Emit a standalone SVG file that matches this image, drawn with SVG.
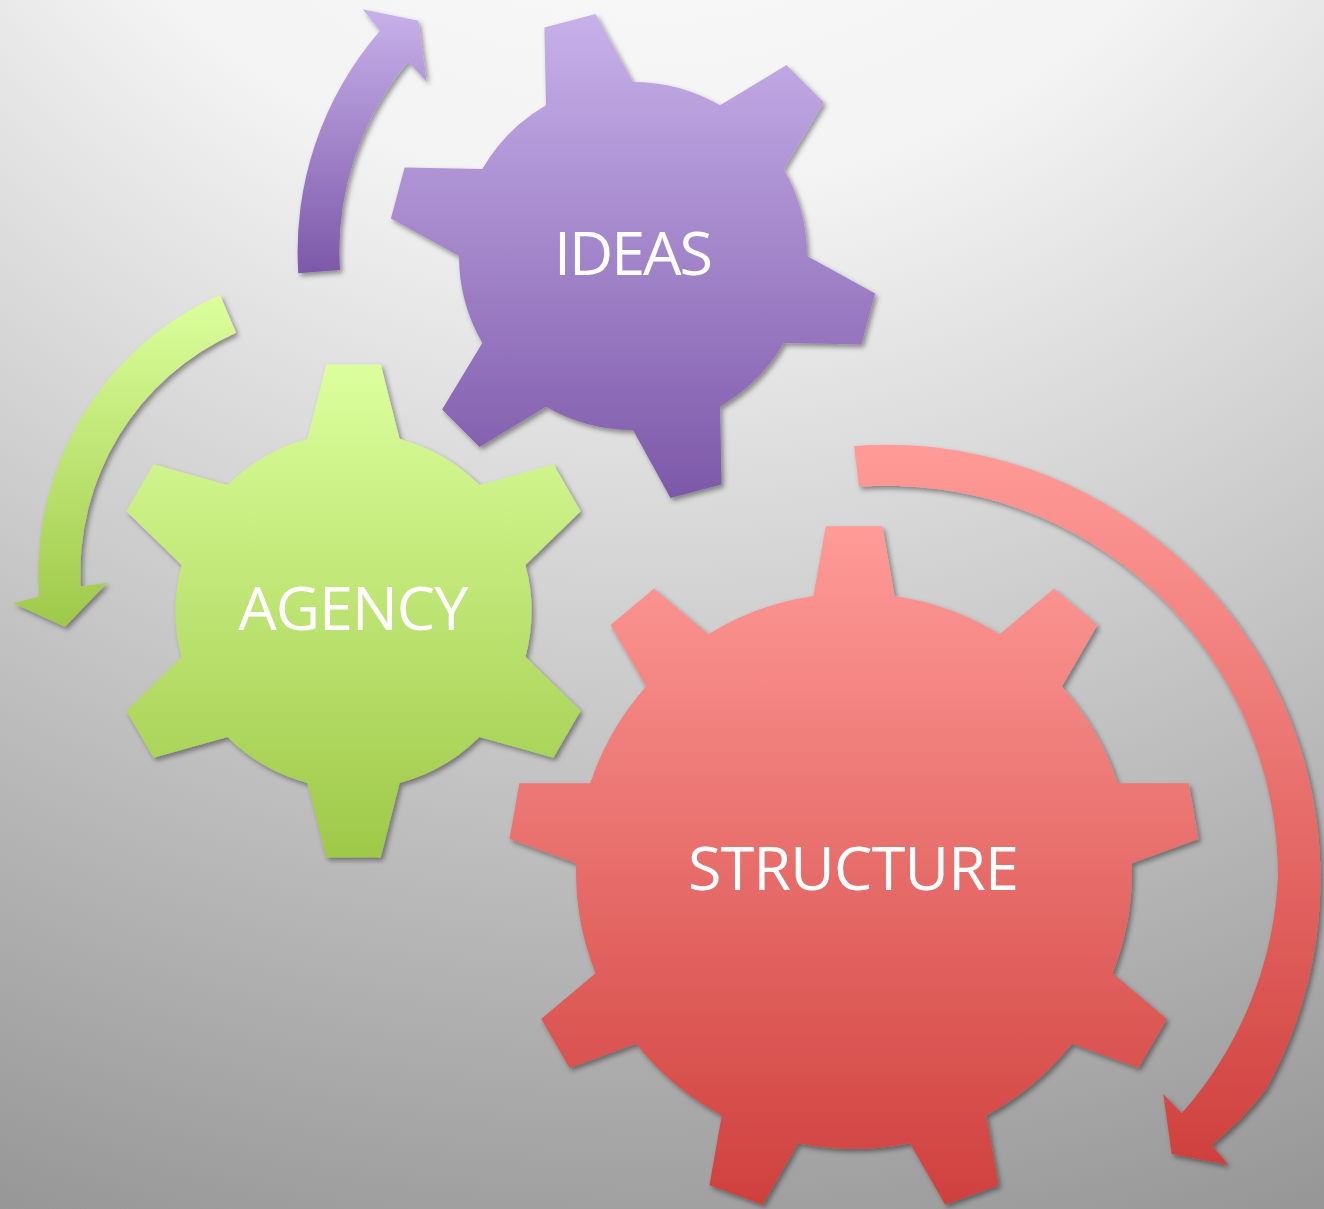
<svg xmlns="http://www.w3.org/2000/svg" width="1324" height="1209" viewBox="0 0 1324 1209">
<style>
.lbl{font-family:"Open Sans","Noto Sans","Liberation Sans",sans-serif;font-size:61px;fill:#ffffff;text-anchor:middle}
.shp{filter:url(#sh)}
</style>
<defs>
<radialGradient id="bg" gradientUnits="userSpaceOnUse" cx="650" cy="-500" r="2000">
<stop offset="0" stop-color="#ffffff"/>
<stop offset="0.35" stop-color="#f3f3f3"/>
<stop offset="0.93" stop-color="#949494"/>
<stop offset="1" stop-color="#8f8f8f"/>
</radialGradient>
<linearGradient id="gP" x1="0" y1="0" x2="0" y2="1">
<stop offset="0" stop-color="#c7b1ea"/>
<stop offset="1" stop-color="#7d58a9"/>
</linearGradient>
<linearGradient id="gG" x1="0" y1="0" x2="0" y2="1">
<stop offset="0" stop-color="#dcff9d"/>
<stop offset="1" stop-color="#9ec948"/>
</linearGradient>
<linearGradient id="gR" x1="0" y1="0" x2="0" y2="1">
<stop offset="0" stop-color="#ff9b98"/>
<stop offset="1" stop-color="#cf403d"/>
</linearGradient>
<filter id="sh" x="-10%" y="-10%" width="125%" height="125%">
<feDropShadow dx="2.5" dy="3" stdDeviation="2.5" flood-color="#000000" flood-opacity="0.4"/>
</filter>
</defs>
<rect x="0" y="0" width="1324" height="1209" fill="url(#bg)"/>
<g id="connectors">
<path id="arrow-ideas" class="shp" fill="url(#gP)" d="M 298.3,273.3 A 337 337 0 0 1 380,30.7 L 362.7,9.3 L 418.3,20.7 L 426.7,81.7 L 408.3,61.7 A 295 295 0 0 0 340,270 Z"/>
<path id="arrow-agency" class="shp" fill="url(#gG)" d="M 220,295 A 304 304 0 0 0 39.3,596.7 L 13.3,603.3 L 65,626.7 L 107.3,582.7 L 80.7,586.7 A 263 263 0 0 1 236,332.7 Z"/>
<path id="arrow-structure" class="shp" fill="url(#gR)" d="M 854,446 A 434 434 0 0 1 1265.6,1090 A 320 320 0 0 1 1211.7,1145 L 1228.3,1165 L 1171.7,1154 L 1163.3,1094.3 L 1181.7,1113.3 A 385 385 0 0 0 1278,877 A 391 391 0 0 0 859,486.7 Z"/>
</g>
<g id="ideas">
<path class="shp" fill="url(#gP)" d="M 546,105.3 L 544.4,27.6 L 595.5,13.9 L 633,82 A 174 174 0 0 1 720,105.3 L 786.5,65.1 L 823.9,102.5 L 783.7,169 A 174 174 0 0 1 807,256 L 875.1,293.5 L 861.4,344.6 L 783.7,343 A 174 174 0 0 1 720,406.7 L 721.6,484.4 L 670.5,498.1 L 633,430 A 174 174 0 0 1 546,406.7 L 479.5,446.9 L 442.1,409.5 L 482.3,343 A 174 174 0 0 1 459,256 L 390.9,218.5 L 404.6,167.4 L 482.3,169 A 174 174 0 0 1 546,105.3 Z"/>
<text class="lbl" x="633.5" y="275" textLength="159" lengthAdjust="spacing">IDEAS</text>
</g>
<g id="agency">
<path class="shp" fill="url(#gG)" d="M 307.4,439.1 L 326.3,364.5 L 380.7,364.5 L 399.6,439.1 A 178 178 0 0 1 479.4,485.1 L 553.4,464.2 L 580.6,511.3 L 525.4,564.9 A 178 178 0 0 1 525.4,657.1 L 580.6,710.7 L 553.4,757.8 L 479.4,736.9 A 178 178 0 0 1 399.6,782.9 L 380.7,857.5 L 326.3,857.5 L 307.4,782.9 A 178 178 0 0 1 227.6,736.9 L 153.6,757.8 L 126.4,710.7 L 181.6,657.1 A 178 178 0 0 1 181.6,564.9 L 126.4,511.3 L 153.6,464.2 L 227.6,485.1 A 178 178 0 0 1 307.4,439.1 Z"/>
<text class="lbl" x="353.3" y="630" textLength="230" lengthAdjust="spacing">AGENCY</text>
</g>
<g id="structure">
<path class="shp" fill="url(#gR)" d="M 813.4,596 L 825.7,526.2 L 882.3,526.2 L 894.6,596 A 278 278 0 0 1 999.7,634.2 L 1054,588.6 L 1097.4,625.1 L 1061.9,686.4 A 278 278 0 0 1 1117.8,783.2 L 1188.7,783.2 L 1198.5,839 L 1131.9,863.2 A 278 278 0 0 1 1112.5,973.3 L 1166.8,1018.9 L 1138.4,1068 L 1071.9,1043.7 A 278 278 0 0 1 986.2,1115.5 L 998.6,1185.3 L 945.3,1204.8 L 909.9,1143.3 A 278 278 0 0 1 798.1,1143.3 L 762.7,1204.8 L 709.4,1185.3 L 721.8,1115.5 A 278 278 0 0 1 636.1,1043.7 L 569.6,1068 L 541.2,1018.9 L 595.5,973.3 A 278 278 0 0 1 576.1,863.2 L 509.5,839 L 519.3,783.2 L 590.2,783.2 A 278 278 0 0 1 646.1,686.4 L 610.6,625.1 L 654,588.6 L 708.3,634.2 A 278 278 0 0 1 813.4,596 Z"/>
<text class="lbl" x="853.5" y="890" textLength="331" lengthAdjust="spacing">STRUCTURE</text>
</g>
</svg>
